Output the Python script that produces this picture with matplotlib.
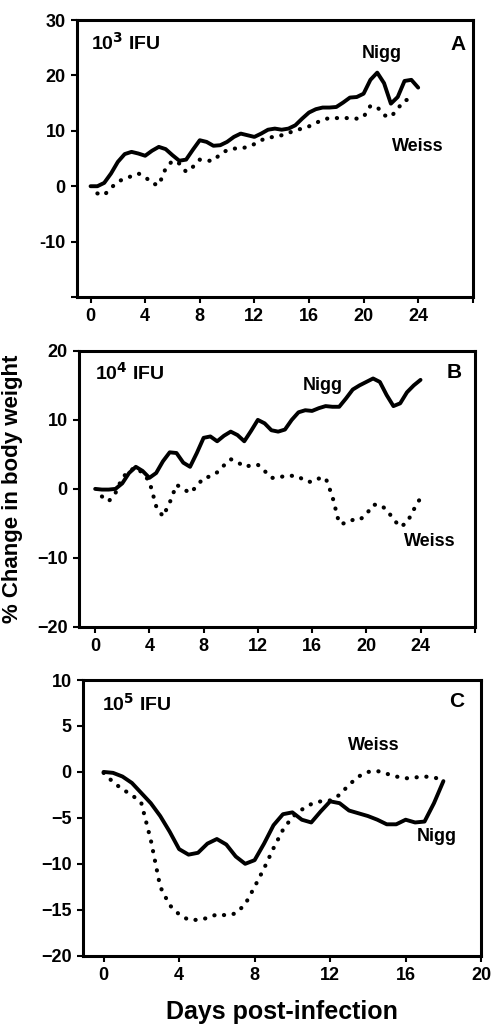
import numpy as np
import matplotlib
matplotlib.use('Agg')
import matplotlib.pyplot as plt

plt.rcParams['font.family'] = ['Liberation Sans', 'DejaVu Sans']
plt.rcParams['font.weight'] = 'bold'
plt.rcParams['axes.labelweight'] = 'bold'
plt.rcParams['mathtext.default'] = 'bf'

# ── Données (pas de 0.5 jour) ────────────────────────────────────────
days_a = np.arange(0, 24.5, 0.5)
nigg_a = [0, 0, 0.6, 2.3, 4.4, 5.8, 6.2, 5.9, 5.5, 6.4, 7.1, 6.7, 5.6, 4.6, 4.8, 6.6,
          8.3, 8.0, 7.3, 7.4, 8.0, 8.9, 9.5, 9.2, 8.9, 9.5, 10.2, 10.4, 10.2, 10.4,
          11.0, 12.2, 13.3, 13.9, 14.2, 14.2, 14.3, 15.1, 16.0, 16.1, 16.7, 19.2,
          20.5, 18.6, 14.9, 16.1, 19.0, 19.2, 17.8]
days_wa = np.arange(0.5, 24.0, 0.5)
weiss_a = [-1.3, -1.6, -0.3, 0.8, 1.4, 1.8, 2.3, 1.7, 0.5, 0.2, 3.2, 4.6, 4.1, 2.6, 3.5,
           4.8, 4.6, 4.6, 5.8, 6.5, 6.8, 6.8, 7.1, 7.6, 8.3, 8.8, 8.9, 9.2, 9.6, 10.1,
           10.4, 10.8, 11.4, 12.0, 12.3, 12.3, 12.3, 12.3, 12.2, 12.5, 14.5, 14.3,
           12.8, 12.5, 14.0, 15.5, 15.7]

days_b = np.arange(0, 24.5, 0.5)
nigg_b = [0, -0.1, -0.1, 0, 0.8, 2.3, 3.2, 2.6, 1.6, 2.3, 4.0, 5.3, 5.2, 3.8, 3.2, 5.2,
          7.4, 7.6, 6.9, 7.7, 8.3, 7.8, 6.9, 8.4, 10.0, 9.5, 8.5, 8.3, 8.6, 10.0,
          11.1, 11.4, 11.3, 11.7, 12.0, 11.9, 11.9, 13.1, 14.4, 15.0, 15.5, 16.0,
          15.5, 13.6, 12.0, 12.4, 14.0, 15.0, 15.8]
days_wb = np.arange(0.5, 24.5, 0.5)
weiss_b = [-1.1, -1.8, -0.6, 1.6, 2.6, 3.1, 2.3, 1.1, -2.5, -4.0, -2.0, 0.6, 0, -0.6,
           0.4, 1.6, 1.8, 2.4, 3.4, 4.3, 3.9, 3.2, 3.4, 3.5, 2.6, 1.6, 1.6, 1.9, 1.9,
           1.8, 1.1, 1.0, 1.5, 1.6, -1.1, -5.0, -5.0, -4.5, -4.5, -3.7, -2.3, -2.3,
           -3.0, -4.4, -5.5, -4.9, -3.0, -1.3]

days_c = np.arange(0, 18.5, 0.5)
nigg_c = [0, -0.1, -0.5, -1.2, -2.3, -3.4, -4.8, -6.5, -8.4, -9.0, -8.8, -7.8, -7.3,
          -7.9, -9.2, -10.0, -9.6, -7.8, -5.8, -4.6, -4.4, -5.2, -5.5, -4.3, -3.2,
          -3.4, -4.2, -4.5, -4.8, -5.2, -5.7, -5.7, -5.2, -5.5, -5.4, -3.4, -1.0]
weiss_c = [-0.1, -1.1, -1.9, -2.5, -3.4, -7.4, -12.5, -14.5, -15.5, -16.1, -16.1,
           -15.9, -15.5, -15.6, -15.4, -14.4, -12.5, -10.5, -8.3, -6.3, -4.9, -4.1,
           -3.5, -3.2, -3.1, -2.5, -1.4, -0.5, 0, 0.1, -0.2, -0.5, -0.7, -0.6, -0.5,
           -0.6, -0.9]

xticks_ab = [0, 4, 8, 12, 16, 20, 24, 28]
xticklabels_ab = ['0', '4', '8', '12', '16', '20', '24', '']
xticks_c = [0, 4, 8, 12, 16, 20]
yticks_a = [-20, -10, 0, 10, 20, 30]
yticklabels_a = ['', '-10', '0', '10', '20', '30']
yticks_b = [-20, -10, 0, 10, 20]
yticks_c = [-20, -15, -10, -5, 0, 5, 10]

DOT = (0, (0.05, 2.3))
SOLID = dict(color='black', lw=2.8, solid_capstyle='round', solid_joinstyle='round')
DOTTED = dict(color='black', lw=3, linestyle=DOT, dash_capstyle='round')


def style_axis(ax):
    for spine in ax.spines.values():
        spine.set_linewidth(2.2)
    ax.tick_params(direction='out', length=4, width=1.5, labelsize=13, pad=4)


fig = plt.figure(figsize=(4.93, 10.26), dpi=100)
ax_a = fig.add_axes([0.156, 0.7105, 0.803, 0.270])
ax_b = fig.add_axes([0.160, 0.389, 0.803, 0.269])
ax_c = fig.add_axes([0.168, 0.0685, 0.808, 0.2687])

# ── A ──
ax_a.plot(days_a, nigg_a, **SOLID)
ax_a.plot(days_wa, weiss_a, **DOTTED)
ax_a.set_xlim(-1, 28)
ax_a.set_ylim(-20, 30)
ax_a.set_xticks(xticks_ab)
ax_a.set_xticklabels(xticklabels_ab)
ax_a.set_yticks(yticks_a)
ax_a.set_yticklabels(yticklabels_a)
ax_a.text(0, 25.9, r'10$^{3}$ IFU', fontsize=14, va='center')
ax_a.text(26.9, 25.5, 'A', fontsize=15, ha='center', va='center')
ax_a.text(21.3, 24.0, 'Nigg', fontsize=13, ha='center', va='center')
ax_a.text(24.0, 7.1, 'Weiss', fontsize=13, ha='center', va='center')
style_axis(ax_a)

# ── B ──
ax_b.plot(days_b, nigg_b, **SOLID)
ax_b.plot(days_wb, weiss_b, **DOTTED)
ax_b.set_xlim(-1.2, 28)
ax_b.set_ylim(-20, 20)
ax_b.set_xticks(xticks_ab)
ax_b.set_xticklabels(xticklabels_ab)
ax_b.set_yticks(yticks_b)
ax_b.text(0, 16.8, r'10$^{4}$ IFU', fontsize=14, va='center')
ax_b.text(26.5, 16.9, 'B', fontsize=15, ha='center', va='center')
ax_b.text(16.8, 15.0, 'Nigg', fontsize=13, ha='center', va='center')
ax_b.text(24.7, -7.6, 'Weiss', fontsize=13, ha='center', va='center')
ax_b.set_ylabel('% Change in body weight', fontsize=16, fontweight='bold')
ax_b.yaxis.set_label_coords(-0.141, 0.5)
style_axis(ax_b)

# ── C ──
ax_c.plot(days_c, nigg_c, **SOLID)
ax_c.plot(days_c, weiss_c, **DOTTED)
ax_c.set_xlim(-1.1, 20)
ax_c.set_ylim(-20, 10)
ax_c.set_xticks(xticks_c)
ax_c.set_yticks(yticks_c)
ax_c.text(-0.1, 7.4, r'10$^{5}$ IFU', fontsize=14, va='center')
ax_c.text(18.7, 7.7, 'C', fontsize=15, ha='center', va='center')
ax_c.text(14.3, 2.9, 'Weiss', fontsize=13, ha='center', va='center')
ax_c.text(17.65, -7.0, 'Nigg', fontsize=13, ha='center', va='center')
ax_c.set_xlabel('Days post-infection', fontsize=18, fontweight='bold', labelpad=12)
style_axis(ax_c)

fig.savefig('out.png', dpi=100, facecolor='white')
